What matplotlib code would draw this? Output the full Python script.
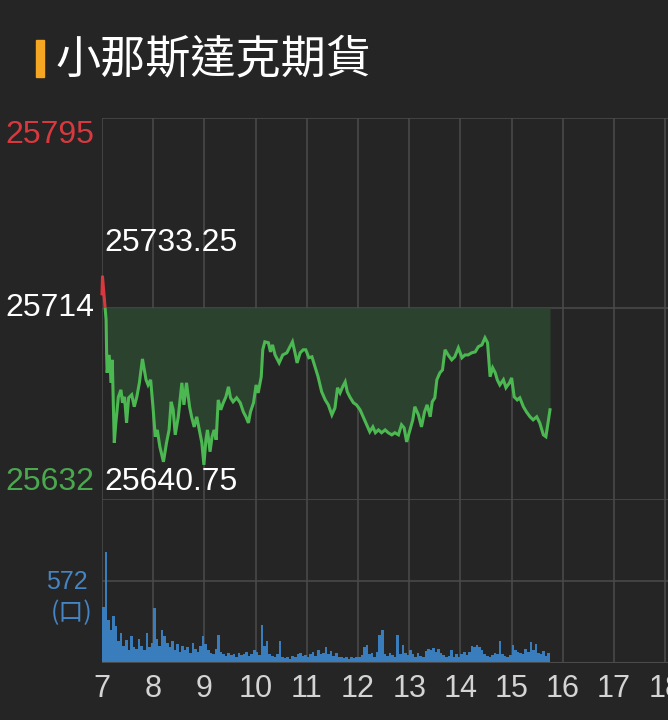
import matplotlib.pyplot as plt
from matplotlib.patches import Rectangle
import numpy as np

# price line (hour of day, price)
hours = [7.00, 7.01, 7.06, 7.08, 7.09, 7.10, 7.14, 7.18, 7.20, 7.24, 7.27, 7.32, 7.37, 7.40, 7.44, 7.48,
         7.52, 7.58, 7.63, 7.68, 7.73, 7.79, 7.86, 7.90, 7.95, 8.00, 8.04, 8.08, 8.13, 8.20, 8.26, 8.31,
         8.35, 8.39, 8.43, 8.49, 8.56, 8.60, 8.65, 8.71, 8.75, 8.80, 8.85, 8.90, 8.95, 8.99, 9.03, 9.06,
         9.11, 9.15, 9.19, 9.23, 9.27, 9.32, 9.37, 9.42, 9.47, 9.51, 9.56, 9.63, 9.70, 9.76, 9.81, 9.86,
         9.90, 9.96, 10.01, 10.05, 10.11, 10.14, 10.18, 10.25, 10.29, 10.33, 10.38, 10.46, 10.53, 10.61,
         10.67, 10.72, 10.77, 10.81, 10.87, 10.93, 10.98, 11.04, 11.10, 11.16, 11.22, 11.29, 11.36, 11.42,
         11.49, 11.55, 11.60, 11.65, 11.70, 11.75, 11.79, 11.84, 11.91, 11.97, 12.04, 12.10, 12.17, 12.23,
         12.29, 12.34, 12.40, 12.46, 12.53, 12.59, 12.66, 12.72, 12.79, 12.85, 12.90, 12.95, 13.00, 13.07,
         13.11, 13.18, 13.24, 13.30, 13.35, 13.41, 13.45, 13.50, 13.54, 13.60, 13.65, 13.70, 13.76, 13.83,
         13.89, 13.96, 14.03, 14.09, 14.15, 14.22, 14.29, 14.35, 14.42, 14.48, 14.53, 14.58, 14.63, 14.68,
         14.72, 14.77, 14.84, 14.89, 14.96, 15.00, 15.05, 15.11, 15.16, 15.23, 15.29, 15.36, 15.42, 15.49,
         15.55, 15.62, 15.67, 15.71, 15.75]
prices = [25720.0, 25727.25, 25714.5, 25708.9, 25694.8, 25686.3, 25693.9, 25682.0, 25691.8, 25656.4,
          25664.9, 25676.0, 25679.0, 25673.5, 25676.0, 25664.9, 25675.6, 25676.9, 25671.8, 25676.0,
          25682.0, 25692.2, 25683.3, 25681.1, 25683.3, 25670.5, 25659.0, 25661.9, 25654.7, 25648.3,
          25656.4, 25661.9, 25673.9, 25670.5, 25659.8, 25667.5, 25682.0, 25672.6, 25682.0, 25671.8,
          25667.5, 25663.2, 25667.5, 25661.9, 25656.4, 25647.0, 25657.7, 25661.9, 25652.6, 25659.0,
          25661.9, 25657.7, 25674.7, 25670.5, 25673.5, 25676.0, 25680.3, 25675.6, 25673.9, 25675.6,
          25673.5, 25669.6, 25667.5, 25664.9, 25669.6, 25673.5, 25681.1, 25677.7, 25684.6, 25696.1,
          25699.5, 25699.1, 25695.2, 25698.2, 25693.9, 25690.5, 25693.9, 25694.8, 25697.4, 25699.5,
          25694.8, 25690.5, 25694.8, 25696.1, 25696.1, 25692.7, 25693.1, 25688.8, 25684.6, 25678.2,
          25674.7, 25672.6, 25668.3, 25671.3, 25679.9, 25677.7, 25680.3, 25682.4, 25678.2, 25676.0,
          25673.5, 25672.6, 25670.5, 25667.5, 25664.1, 25661.1, 25663.2, 25660.7, 25661.9, 25660.7,
          25661.9, 25660.7, 25659.8, 25660.7, 25659.8, 25664.1, 25662.8, 25656.8, 25660.7, 25666.2,
          25671.8, 25668.3, 25663.2, 25669.6, 25672.6, 25667.5, 25673.9, 25675.6, 25683.3, 25686.3,
          25687.5, 25696.1, 25693.9, 25691.8, 25693.1, 25696.9, 25692.7, 25693.9, 25693.9, 25694.8,
          25695.2, 25697.4, 25698.2, 25701.2, 25699.1, 25684.6, 25688.4, 25686.3, 25683.3, 25681.1,
          25683.3, 25679.9, 25682.0, 25684.1, 25676.0, 25674.7, 25675.6, 25671.8, 25669.6, 25667.5,
          25666.2, 25667.5, 25664.9, 25659.8, 25659.0, 25664.9, 25670.5]

# volume per 3-minute bar, starting 7:00
vol_start = [7 + i * 0.05 for i in range(175)]
volumes = [390, 776, 300, 230, 330, 260, 150, 210, 120, 160, 90, 190, 110, 100, 170, 120, 90, 210, 110, 140,
           384, 170, 120, 230, 190, 140, 110, 150, 90, 130, 80, 120, 90, 110, 70, 140, 100, 80, 120, 190,
           130, 90, 70, 60, 100, 195, 80, 60, 50, 70, 55, 65, 45, 70, 55, 60, 80, 50, 60, 90,
           75, 55, 265, 120, 150, 60, 50, 45, 60, 150, 40, 35, 40, 30, 50, 45, 60, 70, 50, 55,
           40, 60, 75, 50, 90, 60, 70, 110, 65, 85, 50, 70, 45, 40, 35, 40, 30, 45, 35, 40,
           40, 55, 110, 125, 60, 70, 45, 80, 195, 230, 60, 50, 70, 55, 45, 195, 60, 125, 70, 55,
           90, 60, 45, 70, 50, 40, 85, 100, 90, 105, 80, 95, 70, 55, 45, 50, 90, 40, 60, 45,
           60, 75, 55, 80, 120, 110, 125, 115, 90, 60, 50, 45, 55, 70, 65, 155, 60, 50, 40, 55,
           125, 90, 80, 70, 60, 100, 80, 147, 90, 130, 70, 60, 85, 50, 70]

ref_price = 25714
high_price = 25795
low_price = 25632
vol_mark = 572
hour_ticks = list(range(7, 19))

bg = '#252525'
grid_c = '#4b4b4b'
green = '#4cb852'
red = '#d9393e'
blue = '#3a7dbd'

plt.rcParams['font.family'] = ['Liberation Sans', 'Noto Sans CJK TC', 'DejaVu Sans']

fig = plt.figure(figsize=(6.68, 7.2), dpi=100, facecolor=bg)
ax = fig.add_axes([102 / 668, 220 / 720, 566 / 668, 382 / 720], facecolor=bg)
axv = fig.add_axes([102 / 668, 57 / 720, 566 / 668, 163 / 720], facecolor=bg)
xmax = 7 + 566 / 51.2

# price panel
t = np.array(hours)
p = np.array(prices)
ax.fill_between(t, p, ref_price, where=p <= ref_price, interpolate=True, color='#2b432e', lw=0)
ax.fill_between(t, p, ref_price, where=p >= ref_price, interpolate=True, color='#4a2426', lw=0)
lg, = ax.plot(t, p, color=green, lw=2.2, solid_joinstyle='miter')
lg.set_clip_path(Rectangle((6, 25500), 20, ref_price - 25500, transform=ax.transData))
lr, = ax.plot(t, p, color=red, lw=2.2)
lr.set_clip_path(Rectangle((6, ref_price), 20, 300, transform=ax.transData))
ax.set_xlim(7, xmax)
ax.set_ylim(low_price, high_price)
ax.set_xticks(hour_ticks)
ax.set_yticks([low_price, ref_price, high_price])
ax.grid(True, color=grid_c, lw=1.1)
ax.set_axisbelow(True)
ax.tick_params(length=0, labelbottom=False, labelleft=False)
for s in ax.spines.values():
    s.set_visible(False)

# volume panel
axv.bar(vol_start, volumes, width=0.05, align='edge', color=blue, lw=0)
axv.set_xlim(7, xmax)
axv.set_ylim(0, 1137)
axv.set_xticks(hour_ticks)
axv.set_yticks([0, vol_mark])
axv.grid(True, color=grid_c, lw=1.1)
axv.set_axisbelow(True)
axv.tick_params(length=0, labelleft=False, labelsize=22, labelcolor='#d4d4d4', pad=8)
for s in axv.spines.values():
    s.set_visible(False)
axv.axhline(0, color=grid_c, lw=1.5)

# labels
fs = 23
fig.text(94 / 668, 1 - 135 / 720, f'{high_price}', color=red, fontsize=fs, ha='right', va='center')
fig.text(94 / 668, 1 - 308 / 720, f'{ref_price}', color='white', fontsize=fs, ha='right', va='center')
fig.text(94 / 668, 1 - 482 / 720, f'{low_price}', color='#4aa84e', fontsize=fs, ha='right', va='center')
fig.text(104 / 668, 1 - 243 / 720, '25733.25', color='white', fontsize=fs, ha='left', va='center')
fig.text(104 / 668, 1 - 482 / 720, '25640.75', color='white', fontsize=fs, ha='left', va='center')
fig.text(88 / 668, 1 - 582 / 720, f'{vol_mark}', color='#4585c3', fontsize=18, ha='right', va='center')
fig.text(93 / 668, 1 - 613 / 720, '(口)', color='#4585c3', fontsize=18, ha='right', va='center',
         family=['Noto Sans CJK TC', 'DejaVu Sans'])

# title
fig.patches.append(Rectangle((36 / 668, 1 - 77 / 720), 8 / 668, 37 / 720, transform=fig.transFigure,
                             color='#f5a623'))
fig.text(56 / 668, 1 - 59 / 720, '小那斯達克期貨', color='white', fontsize=32.5, ha='left', va='center',
         family=['Noto Sans CJK TC', 'DejaVu Sans'])

fig.savefig('out.png', dpi=100, facecolor=bg)
